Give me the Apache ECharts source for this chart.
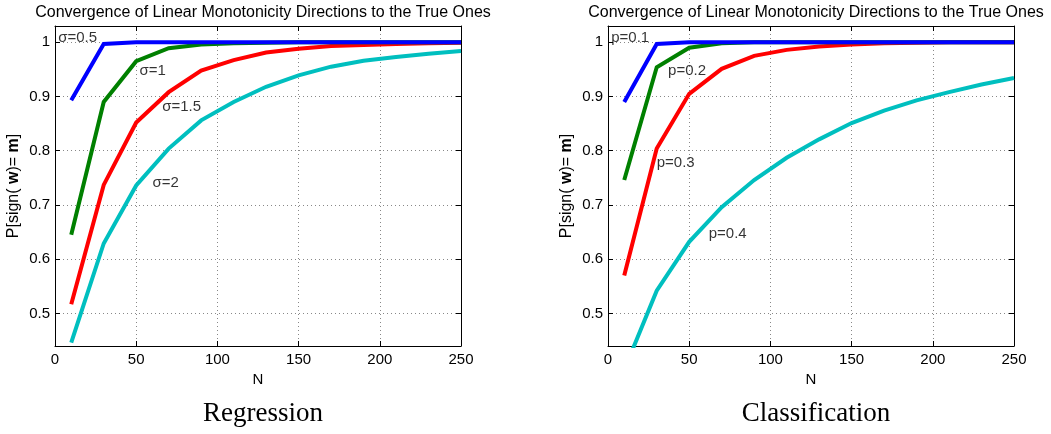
<!DOCTYPE html>
<html>
<head>
<meta charset="utf-8">
<script src="https://cdn.jsdelivr.net/npm/echarts@6/dist/echarts.min.js"></script>
<style>
  html, body { margin: 0; padding: 0; background: #fff; }
  #chart { width: 1051px; height: 434px; }
</style>
</head>
<body>
<div id="chart"></div>
<script>
const sampleSizes = [10, 30, 50, 70, 90, 110, 130, 150, 170, 190, 210, 230, 250]
const xTicks = [0, 50, 100, 150, 200, 250]
const yTicks = [0.5, 0.6, 0.7, 0.8, 0.9, 1]

// Regression panel, one curve per noise level
const regSigma05 = [0.893, 0.997, 1, 1, 1, 1, 1, 1, 1, 1, 1, 1, 1]
const regSigma1 = [0.645, 0.890, 0.965, 0.989, 0.996, 0.998, 0.999, 1, 1, 1, 1, 1, 1]
const regSigma15 = [0.517, 0.737, 0.852, 0.908, 0.948, 0.967, 0.981, 0.988, 0.993, 0.995, 0.997, 0.998, 0.999]
const regSigma2 = [0.446, 0.629, 0.736, 0.804, 0.856, 0.890, 0.918, 0.939, 0.955, 0.966, 0.973, 0.979, 0.984]

// Classification panel, one curve per flip probability
const clsP01 = [0.890, 0.997, 1, 1, 1, 1, 1, 1, 1, 1, 1, 1, 1]
const clsP02 = [0.746, 0.954, 0.990, 0.998, 1, 1, 1, 1, 1, 1, 1, 1, 1]
const clsP03 = [0.570, 0.804, 0.905, 0.951, 0.975, 0.986, 0.992, 0.996, 0.998, 0.999, 1, 1, 1]
const clsP04 = [0.396, 0.542, 0.632, 0.696, 0.746, 0.787, 0.821, 0.851, 0.874, 0.893, 0.908, 0.922, 0.934]

const regNames = ['σ=0.5', 'σ=1', 'σ=1.5', 'σ=2']
const clsNames = ['p=0.1', 'p=0.2', 'p=0.3', 'p=0.4']
const regLabelPos = [[2, 1.009], [52, 0.948], [66, 0.880], [60, 0.740]]
const clsLabelPos = [[2, 1.009], [37, 0.948], [30, 0.777], [62, 0.647]]

const colors = ['#0000ff', '#008000', '#ff0000', '#00bfbf']
const font = "'Liberation Sans', Helvetica, Arial, sans-serif"
const serif = "'Liberation Serif', 'Times New Roman', serif"
const title = 'Convergence of Linear Monotonicity Directions to the True Ones'

const chart = echarts.init(document.getElementById('chart'))

const panels = [
  { left: 55, right: 590, series: [regSigma05, regSigma1, regSigma15, regSigma2], names: regNames, labelPos: regLabelPos, caption: 'Regression' },
  { left: 608, right: 37, series: [clsP01, clsP02, clsP03, clsP04], names: clsNames, labelPos: clsLabelPos, caption: 'Classification' }
]

const grids = []
const xAxes = []
const yAxes = []
const series = []
const titles = []

const tickStyle = { inside: true, length: 5, lineStyle: { color: '#000', width: 1 } }
const gridLine = { show: true, lineStyle: { type: [1, 3], color: '#888', width: 1 } }

panels.forEach((p, gi) => {
  grids.push({ left: p.left, right: p.right, top: 26, bottom: 88, show: false })
  const center = p.left + (1051 - p.left - p.right) / 2

  // bottom and top x axes (the top one only draws the box side and ticks)
  xAxes.push({
    gridIndex: gi, type: 'value', min: 0, max: 250, interval: 50, position: 'bottom',
    name: 'N', nameLocation: 'middle', nameGap: 22,
    nameTextStyle: { fontFamily: font, fontSize: 15, color: '#000' },
    axisLine: { onZero: false, lineStyle: { color: '#000', width: 1 } },
    axisTick: tickStyle,
    axisLabel: { fontFamily: font, fontSize: 15, color: '#000', margin: 6 },
    splitLine: gridLine
  })
  xAxes.push({
    gridIndex: gi, type: 'value', min: 0, max: 250, interval: 50, position: 'top',
    axisLine: { onZero: false, lineStyle: { color: '#000', width: 1 } },
    axisTick: tickStyle, axisLabel: { show: false }, splitLine: { show: false }
  })
  yAxes.push({
    gridIndex: gi, type: 'value', min: 0.44, max: 1.03, position: 'left',
    name: '{n|P[sign( }{b|w}{n|)= }{b|m}{n|]}', nameLocation: 'middle', nameGap: 33, nameRotate: 90,
    nameTextStyle: {
      rich: {
        n: { fontFamily: font, fontSize: 16, color: '#000' },
        b: { fontFamily: font, fontSize: 16, color: '#000', fontWeight: 'bold' }
      }
    },
    axisLine: { onZero: false, lineStyle: { color: '#000', width: 1 } },
    axisTick: Object.assign({ customValues: yTicks }, tickStyle),
    axisLabel: { customValues: yTicks, fontFamily: font, fontSize: 15, color: '#000', margin: 5, formatter: v => String(+v.toFixed(1)) },
    splitLine: gridLine
  })
  yAxes.push({
    gridIndex: gi, type: 'value', min: 0.44, max: 1.03, position: 'right',
    axisLine: { onZero: false, lineStyle: { color: '#000', width: 1 } },
    axisTick: Object.assign({ customValues: yTicks }, tickStyle),
    axisLabel: { show: false }, splitLine: { show: false }
  })

  p.series.forEach((vals, si) => {
    series.push({
      type: 'line', xAxisIndex: gi * 2, yAxisIndex: gi * 2, name: p.names[si],
      data: sampleSizes.map((x, i) => [x, vals[i]]),
      symbol: 'none', silent: true, clip: true,
      lineStyle: { color: colors[si], width: 4, join: 'miter' },
      z: 3 + (3 - si)
    })
  })

  series.push({
    type: 'scatter', xAxisIndex: gi * 2, yAxisIndex: gi * 2, silent: true,
    symbolSize: 0, z: 10,
    data: p.labelPos.map((pos, i) => ({ value: pos, name: p.names[i] })),
    label: { show: true, position: 'right', distance: 0, formatter: '{b}', fontFamily: font, fontSize: 15, color: '#000' }
  })

  titles.push({
    text: title, left: center, top: 0, textAlign: 'center',
    textStyle: { fontFamily: font, fontSize: 16, fontWeight: 'normal', color: '#000' }
  })
  titles.push({
    text: p.caption, left: center, top: 395, textAlign: 'center',
    textStyle: { fontFamily: serif, fontSize: 27, fontWeight: 'normal', color: '#000' }
  })
})

chart.setOption({
  backgroundColor: '#fff',
  animation: false,
  title: titles,
  grid: grids,
  xAxis: xAxes,
  yAxis: yAxes,
  series
})
</script>
</body>
</html>
